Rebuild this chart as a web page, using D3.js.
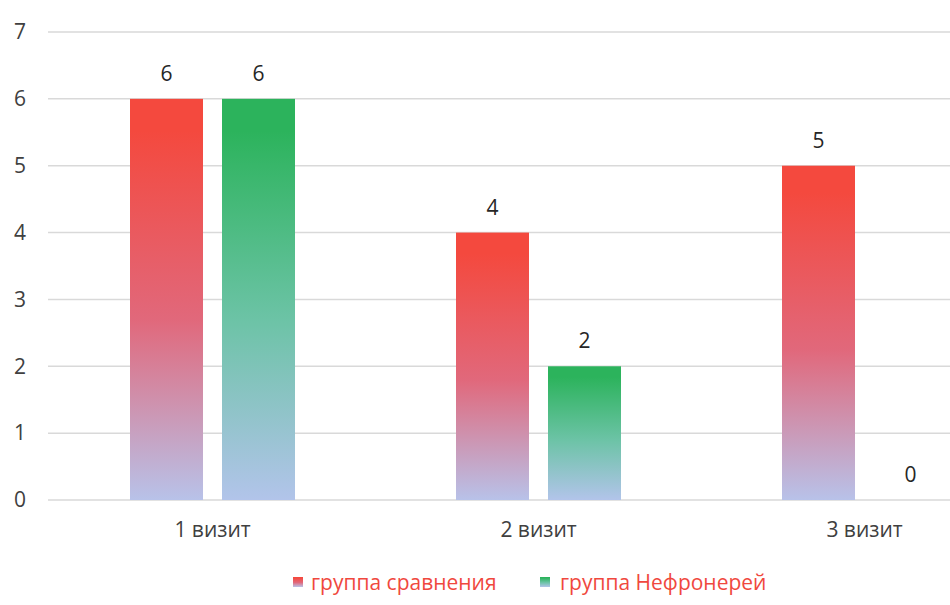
<!DOCTYPE html>
<html>
<head>
<meta charset="utf-8">
<script src="https://cdn.jsdelivr.net/npm/d3@7"></script>
<style>
  body { margin: 0; background: #fff; }
  svg { display: block; font-family: "Open Sans", "Noto Sans", sans-serif; }
</style>
</head>
<body>
<div id="chart"></div>
<script>
// data
var categories = ["1 визит", "2 визит", "3 визит"];
var seriesNames = ["группа сравнения", "группа Нефронерей"];
var comparison = [6, 4, 5];
var nephroneria = [6, 2, 0];
var yTicks = [0, 1, 2, 3, 4, 5, 6, 7];

var width = 950, height = 605;

var svg = d3.select("#chart").append("svg")
  .attr("width", width)
  .attr("height", height);

// gradients for the bars (top colour -> pale blue at the bottom)
var defs = svg.append("defs");
var gradSpecs = [
  { id: "gradRed", stops: ["#f4493e", "#e1687b", "#b8c2e9"] },
  { id: "gradGreen", stops: ["#2cb35c", "#6cc3a6", "#b2c4ea"] }
];
gradSpecs.forEach(function(g){
  var lg = defs.append("linearGradient")
    .attr("id", g.id)
    .attr("x1", 0).attr("y1", 0).attr("x2", 0).attr("y2", 1);
  lg.append("stop").attr("offset", "0.08").attr("stop-color", g.stops[0]);
  lg.append("stop").attr("offset", "0.55").attr("stop-color", g.stops[1]);
  lg.append("stop").attr("offset", "1").attr("stop-color", g.stops[2]);
});

var y = d3.scaleLinear().domain([0, 7]).range([500, 32]);

// the plot runs past the right edge of the picture, like the original crop
var x0 = d3.scaleBand().domain(categories).range([49.5, 1027.5]).padding(0);
var x1 = d3.scaleBand().domain(seriesNames).range([0, x0.bandwidth()])
  .paddingInner(0.2065).paddingOuter(0.875);

// grid lines
svg.append("g").selectAll("line")
  .data(yTicks)
  .join("line")
  .attr("x1", 48).attr("x2", width)
  .attr("y1", function(d){ return y(d); })
  .attr("y2", function(d){ return y(d); })
  .attr("stroke", "#d9d9d9")
  .attr("stroke-width", 1.5);

// y axis labels
var yAxis = d3.axisLeft(y).tickValues(yTicks).tickFormat(d3.format("d"))
  .tickSize(0).tickPadding(0);
var yg = svg.append("g").attr("transform", "translate(20,0)").call(yAxis);
yg.select(".domain").remove();
yg.selectAll("text")
  .attr("text-anchor", "middle")
  .attr("font-size", 21)
  .attr("fill", "#404040")
  .attr("font-family", "'Open Sans', sans-serif");

// bars
var rows = categories.map(function(c, i){
  return [
    { cat: c, name: seriesNames[0], value: comparison[i], grad: "gradRed" },
    { cat: c, name: seriesNames[1], value: nephroneria[i], grad: "gradGreen" }
  ];
});

var groups = svg.append("g").selectAll("g")
  .data(rows)
  .join("g")
  .attr("transform", function(d){ return "translate(" + x0(d[0].cat) + ",0)"; });

groups.selectAll("rect")
  .data(function(d){ return d.filter(function(b){ return b.value > 0; }); })
  .join("rect")
  .attr("x", function(d){ return x1(d.name); })
  .attr("y", function(d){ return y(d.value); })
  .attr("width", x1.bandwidth())
  .attr("height", function(d){ return y(0) - y(d.value); })
  .attr("fill", function(d){ return "url(#" + d.grad + ")"; });

groups.selectAll("text")
  .data(function(d){ return d; })
  .join("text")
  .attr("x", function(d){ return x1(d.name) + x1.bandwidth() / 2; })
  .attr("y", function(d){ return y(d.value) - 18; })
  .attr("text-anchor", "middle")
  .attr("font-size", 21)
  .attr("fill", "#262626")
  .text(function(d){ return d.value; });

// category labels
var xAxis = d3.axisBottom(x0).tickSize(0).tickPadding(0);
var xg = svg.append("g").attr("transform", "translate(0,522)").call(xAxis);
xg.select(".domain").remove();
xg.selectAll("text")
  .attr("font-size", 21)
  .attr("fill", "#404040")
  .attr("font-family", "'Open Sans', sans-serif");

// legend
var legend = [
  { name: seriesNames[0], grad: "gradRed", x: 293 },
  { name: seriesNames[1], grad: "gradGreen", x: 540 }
];
var lg = svg.append("g").selectAll("g")
  .data(legend)
  .join("g")
  .attr("transform", function(d){ return "translate(" + d.x + ",577)"; });
lg.append("rect")
  .attr("width", 10).attr("height", 10)
  .attr("fill", function(d){ return "url(#" + d.grad + ")"; });
lg.append("text")
  .attr("x", function(d, i){ return i === 0 ? 18 : 20; })
  .attr("y", 13)
  .attr("font-size", 21)
  .attr("fill", "#f0483e")
  .text(function(d){ return d.name; });
</script>
</body>
</html>
